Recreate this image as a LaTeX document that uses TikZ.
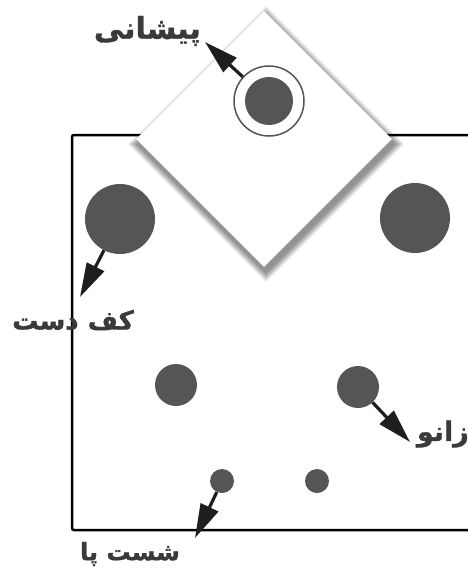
\documentclass[tikz,border=0pt]{standalone}
\usepackage{fontspec}
\newfontfamily\arabicfont[Script=Arabic,BoldFont={DejaVu Sans Bold},BoldFeatures={FakeBold=1.2}]{DejaVu Sans}
\TeXXeTstate=1
\usetikzlibrary{arrows.meta,shapes.geometric}
\definecolor{dotgray}{HTML}{555555}
\definecolor{txtgray}{HTML}{3A3A3A}
\definecolor{arrowdark}{HTML}{1E1E1E}
\begin{document}
\begin{tikzpicture}[x=1pt,y=-1pt,
  dot/.style={circle,fill=dotgray,inner sep=0pt,minimum size=#1},
  lbl/.style={font=\arabicfont\bfseries\fontsize{#1}{#1}\selectfont,text=txtgray,inner sep=0pt},
  arr/.style={draw=arrowdark,line width=3.2pt,-{Triangle[length=34pt,width=19pt]}}
]
\clip (0,0) rectangle (468,576);
\fill[white] (0,0) rectangle (468,576);
% frame
\draw[line width=2.5pt, rounded corners=2pt] (490,135) -- (72,135) -- (72,530) -- (490,530);
% diamond shadow
\foreach \s in {1,...,10}{
  \fill[black,opacity=0.05] (266,{144-128-\s}) -- ({266+128+\s},144) -- (266,{144+128+\s}) -- ({266-128-\s},144) -- cycle;
}
\node[diamond, fill=white, inner sep=0pt, minimum width=256pt, minimum height=256pt] (face) at (264,139) {};
% points
\node[circle, draw=dotgray, line width=1.5pt, fill=white, minimum size=70pt, inner sep=0pt] (ring) at (269,101) {};
\node[dot=48pt] (forehead) at (269,101) {};
\node[dot=70pt] (palmL) at (120,219) {};
\node[dot=70pt] (palmR) at (415,218) {};
\node[dot=42pt] (kneeL) at (176,385) {};
\node[dot=42pt] (kneeR) at (358,387) {};
\node[dot=24pt] (toeL) at (222,481) {};
\node[dot=24pt] (toeR) at (317,481) {};
% labels
\node[lbl=30, anchor=east] (lfh) at (201,31) {\beginR پیشانی\endR};
\node[lbl=26] (lpalm) at (73,320) {\beginR کف دست\endR};
\node[lbl=27, anchor=east] (lknee) at (469,434) {\beginR زانو\endR};
\node[lbl=24] (ltoe) at (130,554) {\beginR شست پا\endR};
% arrows
\coordinate (tfh) at (205,42);
\coordinate (tpalm) at (80,297);
\coordinate (tknee) at (410,442);
\coordinate (ttoe) at (195,538);
\draw[arr] (ring) -- (tfh);
\draw[arr] (palmL) -- (tpalm);
\draw[arr] (kneeR) -- (tknee);
\draw[arr] (toeL) -- (ttoe);
\end{tikzpicture}
\end{document}
